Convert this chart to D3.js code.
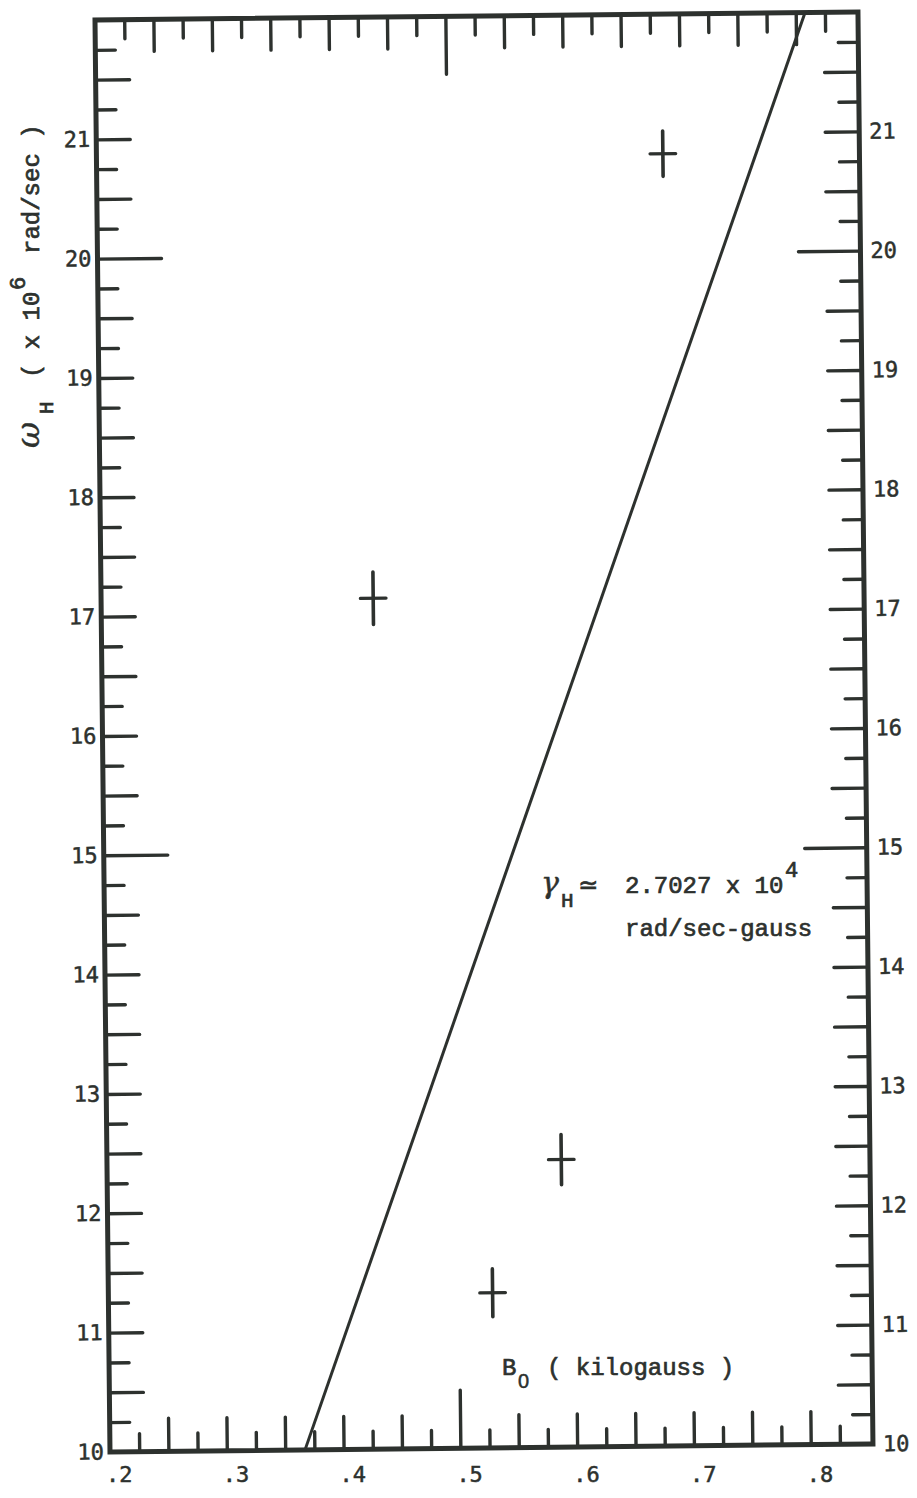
<!DOCTYPE html>
<html>
<head>
<meta charset="utf-8">
<script src="https://cdn.jsdelivr.net/npm/d3@7"></script>
<style>
  body { margin: 0; background: #fff; }
  svg { display: block; }
  .tick text { font-family: "DejaVu Sans Mono", monospace; font-size: 22px; fill: #2d312e; stroke: #2d312e; stroke-width: 0.5px; }
  .typed { font-family: "Liberation Mono", monospace; fill: #2d312e; stroke: #2d312e; stroke-width: 0.7px; }
</style>
</head>
<body>
<svg id="chart" width="917" height="1498"></svg>
<script>
// measured points: field B0 (kilogauss) vs omega_H (x 10^6 rad/sec)
const fieldB   = [0.433, 0.529, 0.589, 0.685];
const omegaH   = [17.13, 11.30, 12.41, 20.83];
const omegaErr = [0.22, 0.20, 0.21, 0.19];
const fieldErr = [0.011, 0.011, 0.011, 0.011];

// fitted line, gamma_H ~ 2.7027 x 10^4 rad/sec-gauss
const fitB     = [0.367, 0.808];
const fitOmega = [10, 22];

// tick labels
const yLabelVals = [10, 11, 12, 13, 14, 15, 16, 17, 18, 19, 20, 21];
const xLabelVals = [0.2, 0.3, 0.4, 0.5, 0.6, 0.7, 0.8];
const xLabels    = [".2", ".3", ".4", ".5", ".6", ".7", ".8"];

const ink = "#2d312e";
const W = 763, H = 1432;

const svg = d3.select("#chart");

// the scanned sheet sits a little crooked
const g = svg.append("g").attr("transform", "translate(95,20) rotate(-0.6)");

const x = d3.scaleLinear().domain([0.2, 0.8533]).range([0, W]);
const y = d3.scaleLinear().domain([10, 22]).range([H, 0]);

// tick sets
const yTicks = d3.range(10.25, 22, 0.25);
const ySmall = yTicks.filter(d => Math.abs(d * 2 - Math.round(d * 2)) > 0.01);
const yMed   = yTicks.filter(d => !ySmall.includes(d) && d !== 15 && d !== 20);
const yLong  = [15, 20];

const xTicks = d3.range(0.225, 0.84, 0.025).map(d => +d.toFixed(3));
const xSmall = xTicks.filter(d => Math.abs(d * 20 - Math.round(d * 20)) > 0.01);
const xMed   = xTicks.filter(d => !xSmall.includes(d) && d !== 0.5);
const xLong  = [0.5];

function tickAxis(axisFn, scale, vals, len, tr) {
  const a = g.append("g")
    .attr("transform", tr)
    .call(axisFn(scale).tickValues(vals).tickSize(-len).tickFormat(""));
  a.select(".domain").remove();
  a.selectAll("line").attr("stroke", ink).attr("stroke-width", 3.4).attr("stroke-linecap", "round");
}

// left & right sides
tickAxis(d3.axisLeft, y, ySmall, 20, "translate(0,0)");
tickAxis(d3.axisLeft, y, yMed, 34, "translate(0,0)");
tickAxis(d3.axisLeft, y, yLong, 64, "translate(0,0)");
tickAxis(d3.axisRight, y, ySmall, 20, `translate(${W},0)`);
tickAxis(d3.axisRight, y, yMed, 34, `translate(${W},0)`);
tickAxis(d3.axisRight, y, yLong, 62, `translate(${W},0)`);

// top & bottom
tickAxis(d3.axisTop, x, xSmall, 19, "translate(0,0)");
tickAxis(d3.axisTop, x, xMed, 32, "translate(0,0)");
tickAxis(d3.axisTop, x, xLong, 58, "translate(0,0)");
tickAxis(d3.axisBottom, x, xSmall, 18, `translate(0,${H})`);
tickAxis(d3.axisBottom, x, xMed, 33, `translate(0,${H})`);
tickAxis(d3.axisBottom, x, xLong, 58, `translate(0,${H})`);

// y labels on both sides
const yl = g.append("g").call(d3.axisLeft(y).tickValues(yLabelVals).tickSize(0).tickPadding(6).tickFormat(d3.format("d")));
yl.select(".domain").remove();
const yr = g.append("g").attr("transform", `translate(${W},0)`)
  .call(d3.axisRight(y).tickValues(yLabelVals).tickSize(0).tickPadding(10).tickFormat(d3.format("d")));
yr.select(".domain").remove();

// frame
g.append("rect")
  .attr("width", W).attr("height", H)
  .attr("fill", "none").attr("stroke", ink).attr("stroke-width", 5);

// fitted line
g.append("path")
  .datum(fitB.map((b, i) => [b, fitOmega[i]]))
  .attr("fill", "none").attr("stroke", ink).attr("stroke-width", 3)
  .attr("d", d3.line().x(d => x(d[0])).y(d => y(d[1])));

// data crosses
const pts = fieldB.map((b, i) => ({ b, w: omegaH[i], ew: omegaErr[i], eb: fieldErr[i] }));
const cr = g.append("g").selectAll("g").data(pts).join("g");
cr.append("line")
  .attr("x1", d => x(d.b)).attr("x2", d => x(d.b))
  .attr("y1", d => y(d.w - d.ew)).attr("y2", d => y(d.w + d.ew))
  .attr("stroke", ink).attr("stroke-width", 3.6).attr("stroke-linecap", "round");
cr.append("line")
  .attr("x1", d => x(d.b - d.eb)).attr("x2", d => x(d.b + d.eb))
  .attr("y1", d => y(d.w)).attr("y2", d => y(d.w))
  .attr("stroke", ink).attr("stroke-width", 3.2).attr("stroke-linecap", "round");

// x labels are typed level, below the crooked frame
const xl = svg.append("g").attr("transform", "translate(110,1482)");
xl.selectAll("text").data(xLabelVals).join("text")
  .attr("x", d => x(d) - 4)
  .attr("font-family", "DejaVu Sans Mono, monospace")
  .attr("font-size", 22).attr("fill", ink).attr("stroke", ink).attr("stroke-width", 0.5)
  .text((d, i) => xLabels[i]);

// x title
const xt = svg.append("text").attr("class", "typed").attr("font-size", 24).attr("y", 1375);
xt.append("tspan").attr("x", 502).text("B");
xt.append("tspan").attr("x", 518).attr("dy", 13).attr("font-family", "Liberation Sans, sans-serif")
  .attr("font-size", 20).attr("stroke-width", 0.5).text("0");
xt.append("tspan").attr("x", 547).attr("dy", -13).attr("xml:space", "preserve").text("( kilogauss )");

// y title
const yt = svg.append("text").attr("class", "typed").attr("font-size", 24)
  .attr("transform", "translate(39,450) rotate(-90)");
yt.append("tspan").attr("x", 2).attr("font-family", "DejaVu Serif, serif").attr("font-style", "italic")
  .attr("font-size", 32).attr("stroke-width", 0.4).text("ω");
yt.append("tspan").attr("x", 36).attr("dy", 14).attr("font-size", 21).text("H");
yt.append("tspan").attr("x", 72).attr("dy", -14).attr("xml:space", "preserve").text("( x 10");
yt.append("tspan").attr("x", 160).attr("dy", -14).attr("font-size", 22).text("6");
yt.append("tspan").attr("x", 196).attr("dy", 14).attr("xml:space", "preserve").text("rad/sec )");

// annotation
const an = svg.append("text").attr("class", "typed").attr("font-size", 24).attr("y", 893);
an.append("tspan").attr("x", 541).attr("font-family", "DejaVu Serif, serif").attr("font-style", "italic")
  .attr("font-size", 30).attr("stroke-width", 0.4).text("γ");
an.append("tspan").attr("x", 561).attr("dy", 14).attr("font-size", 21).text("H");
an.append("tspan").attr("x", 578).attr("dy", -14).attr("font-family", "DejaVu Sans, sans-serif").attr("font-size", 24).text("≃");
an.append("tspan").attr("x", 625).attr("xml:space", "preserve").text("2.7027 x 10");
an.append("tspan").attr("x", 785).attr("dy", -16).attr("font-size", 22).text("4");
svg.append("text").attr("class", "typed").attr("font-size", 24)
  .attr("x", 625).attr("y", 936).text("rad/sec-gauss");
</script>
</body>
</html>
